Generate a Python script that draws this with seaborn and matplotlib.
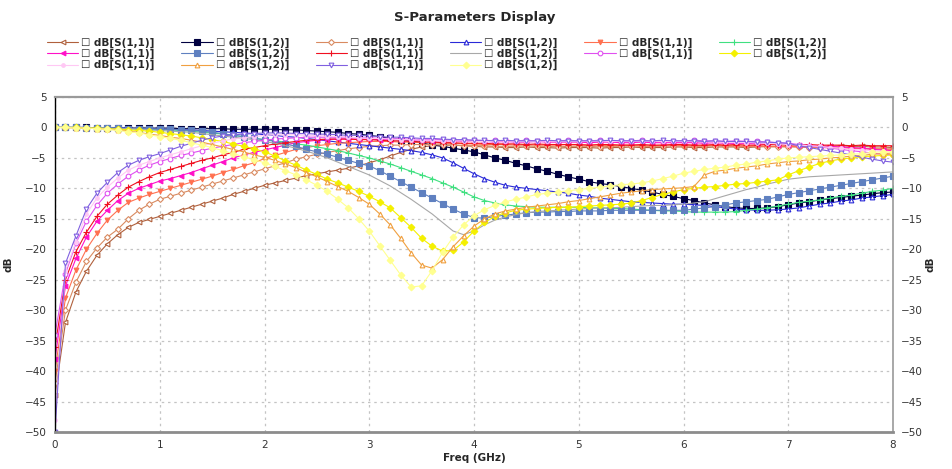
import numpy as np
import pandas as pd
import seaborn as sns
import matplotlib.pyplot as plt

# frequency sweep (GHz), 0.1 GHz step
freq_ghz = np.round(np.linspace(0, 8, 81), 1)

# ---- S11 traces (dB) ----
s11_brown = [
    -44, -32, -27, -23.6, -21.0, -19.1, -17.6, -16.4, -15.6, -15.1,
    -14.6, -14.1, -13.6, -13.1, -12.6, -12.1, -11.6, -11.0, -10.5, -10.0,
    -9.5, -9.1, -8.7, -8.3, -7.9, -7.6, -7.3, -7.0, -6.7, -6.3,
    -5.8, -5.3, -4.7, -4.1, -3.6, -3.2, -3.0, -2.9, -2.9, -3.0,
    -3.1, -3.2, -3.2, -3.3, -3.3, -3.2, -3.3, -3.3, -3.4, -3.3,
    -3.3, -3.3, -3.4, -3.3, -3.3, -3.2, -3.3, -3.3, -3.3, -3.2,
    -3.2, -3.3, -3.3, -3.2, -3.2, -3.2, -3.3, -3.2, -3.1, -3.1,
    -3.1, -3.1, -3.0, -3.1, -3.1, -3.0, -3.1, -3.1, -3.2, -3.2,
    -3.3]
s11_salmon = [
    -42, -30, -25.4, -22.0, -19.8, -18.0, -16.7, -15.0, -13.6, -12.6,
    -11.8, -11.3, -10.8, -10.3, -9.8, -9.3, -8.8, -8.3, -7.8, -7.3,
    -6.8, -6.3, -5.8, -5.2, -4.8, -4.4, -4.1, -3.8, -3.5, -3.3,
    -3.1, -3.0, -2.9, -2.9, -2.8, -2.8, -2.8, -2.9, -2.9, -3.0,
    -3.0, -3.0, -3.1, -3.1, -3.1, -3.0, -3.1, -3.1, -3.2, -3.1,
    -3.1, -3.1, -3.2, -3.1, -3.1, -3.0, -3.1, -3.1, -3.1, -3.0,
    -3.0, -3.1, -3.1, -3.0, -3.0, -3.1, -3.1, -3.1, -3.2, -3.2,
    -3.2, -3.2, -3.3, -3.3, -3.3, -3.4, -3.4, -3.4, -3.5, -3.5,
    -3.5]
s11_coral = [
    -40, -28, -23.4, -20.0, -17.4, -15.2, -13.6, -12.3, -11.6, -11.0,
    -10.5, -10.0, -9.5, -9.0, -8.5, -8.0, -7.4, -6.9, -6.3, -5.8,
    -5.1, -4.6, -4.1, -3.6, -3.3, -3.0, -2.8, -2.6, -2.5, -2.4,
    -2.3, -2.3, -2.3, -2.4, -2.4, -2.5, -2.5, -2.6, -2.6, -2.7,
    -2.7, -2.8, -2.8, -2.8, -2.9, -2.8, -2.9, -2.9, -2.9, -2.8,
    -2.9, -2.9, -2.9, -3.0, -2.9, -2.9, -3.0, -3.0, -2.9, -2.9,
    -3.0, -3.0, -3.0, -2.9, -3.0, -3.0, -3.1, -3.0, -3.1, -3.1,
    -3.1, -3.2, -3.2, -3.2, -3.3, -3.3, -3.4, -3.5, -3.5, -3.6,
    -3.7]
s11_magenta = [
    -38, -26, -21.5, -18.0, -15.4, -13.6, -12.0, -10.8, -10.0, -9.4,
    -8.8, -8.4, -7.9, -7.4, -6.8, -6.2, -5.6, -5.0, -4.5, -4.1,
    -3.7, -3.3, -2.9, -2.5, -2.3, -2.1, -2.0, -1.9, -1.9, -1.9,
    -1.9, -2.0, -2.0, -2.0, -2.1, -2.1, -2.2, -2.2, -2.2, -2.3,
    -2.3, -2.3, -2.4, -2.3, -2.4, -2.4, -2.3, -2.4, -2.4, -2.4,
    -2.4, -2.5, -2.4, -2.4, -2.5, -2.5, -2.4, -2.5, -2.5, -2.5,
    -2.5, -2.5, -2.6, -2.5, -2.6, -2.6, -2.6, -2.7, -2.7, -2.8,
    -2.8, -2.9, -3.0, -3.0, -3.1, -3.2, -3.3, -3.4, -3.6, -3.7,
    -3.8]
s11_red = [
    -36, -25, -20.4, -17.2, -14.6, -12.6, -11.1, -9.8, -8.9, -8.1,
    -7.4, -6.9, -6.4, -5.9, -5.4, -5.0, -4.5, -4.1, -3.6, -3.3,
    -3.0, -2.7, -2.5, -2.3, -2.1, -2.0, -1.9, -1.9, -1.9, -2.0,
    -2.0, -2.1, -2.2, -2.2, -2.3, -2.4, -2.4, -2.5, -2.5, -2.6,
    -2.6, -2.6, -2.7, -2.7, -2.7, -2.8, -2.7, -2.8, -2.8, -2.8,
    -2.8, -2.9, -2.8, -2.8, -2.9, -2.9, -2.8, -2.9, -2.9, -2.8,
    -2.8, -2.9, -2.9, -2.8, -2.9, -2.8, -2.9, -2.9, -2.8, -2.8,
    -2.9, -2.9, -2.8, -2.9, -2.9, -2.9, -3.0, -2.9, -3.0, -3.0,
    -3.0]
s11_orchid = [
    -34, -24, -19.0, -15.4, -12.8, -10.8, -9.3, -8.0, -7.0, -6.2,
    -5.6, -5.1, -4.6, -4.2, -3.8, -3.4, -3.1, -2.8, -2.5, -2.3,
    -2.1, -1.9, -1.8, -1.7, -1.6, -1.6, -1.6, -1.6, -1.6, -1.7,
    -1.7, -1.8, -1.8, -1.9, -1.9, -2.0, -2.0, -2.0, -2.1, -2.1,
    -2.1, -2.2, -2.1, -2.2, -2.2, -2.1, -2.2, -2.2, -2.2, -2.1,
    -2.2, -2.2, -2.1, -2.2, -2.2, -2.2, -2.1, -2.2, -2.2, -2.2,
    -2.2, -2.1, -2.2, -2.2, -2.3, -2.2, -2.3, -2.3, -2.4, -2.5,
    -2.6, -2.8, -3.0, -3.2, -3.4, -3.6, -3.8, -4.0, -4.2, -4.4,
    -4.5]
s11_pink = [
    -48, -23.5, -18.8, -14.2, -11.6, -9.8, -8.3, -7.0, -6.2, -5.6,
    -5.0, -4.5, -4.0, -3.5, -3.0, -2.6, -2.2, -1.9, -1.7, -1.5,
    -1.3, -1.2, -1.2, -1.2, -1.3, -1.3, -1.4, -1.5, -1.6, -1.7,
    -1.8, -1.8, -1.9, -2.0, -2.0, -2.1, -2.1, -2.2, -2.2, -2.2,
    -2.3, -2.3, -2.3, -2.2, -2.3, -2.3, -2.3, -2.2, -2.3, -2.3,
    -2.3, -2.3, -2.2, -2.3, -2.3, -2.3, -2.3, -2.2, -2.3, -2.3,
    -2.3, -2.3, -2.3, -2.4, -2.4, -2.4, -2.5, -2.5, -2.6, -2.7,
    -2.8, -2.9, -3.0, -3.1, -3.3, -3.4, -3.6, -3.7, -3.8, -3.9,
    -4.0]
s11_purple = [
    -50, -22.3, -17.8, -13.4, -10.8, -9.0, -7.4, -6.2, -5.4, -4.8,
    -4.3, -3.7, -3.1, -2.6, -2.1, -1.7, -1.4, -1.2, -1.1, -1.0,
    -0.9, -0.9, -0.9, -1.0, -1.0, -1.1, -1.1, -1.2, -1.3, -1.3,
    -1.4, -1.5, -1.6, -1.6, -1.7, -1.8, -1.8, -1.9, -2.0, -2.0,
    -2.1, -2.1, -2.2, -2.1, -2.2, -2.2, -2.2, -2.1, -2.2, -2.2,
    -2.2, -2.2, -2.2, -2.1, -2.2, -2.2, -2.2, -2.2, -2.1, -2.2,
    -2.2, -2.2, -2.3, -2.2, -2.3, -2.3, -2.3, -2.4, -2.4, -2.5,
    -2.6, -3.0, -3.3, -3.6, -3.9, -4.2, -4.5, -4.9, -5.2, -5.5,
    -5.7]

# ---- S12 traces (dB) ----
s12_navy = [
    0, 0, 0, 0, -0.1, -0.1, -0.1, -0.1, -0.1, -0.1,
    -0.1, -0.1, -0.2, -0.2, -0.2, -0.2, -0.2, -0.3, -0.3, -0.3,
    -0.3, -0.3, -0.4, -0.4, -0.5, -0.6, -0.7, -0.8, -1.0, -1.1,
    -1.3, -1.5, -1.8, -2.0, -2.2, -2.5, -2.9, -3.1, -3.4, -3.7,
    -4.0, -4.5, -5.0, -5.4, -5.9, -6.3, -6.8, -7.2, -7.7, -8.1,
    -8.5, -8.9, -9.2, -9.4, -9.7, -10.0, -10.3, -10.6, -11.0, -11.3,
    -11.7, -12.0, -12.4, -12.7, -13.0, -13.2, -13.3, -13.3, -13.2, -13.0,
    -12.7, -12.4, -12.2, -11.9, -11.7, -11.5, -11.3, -11.1, -10.9, -10.7,
    -10.6]
s12_blue = [
    0, 0, 0, 0, -0.1, -0.1, -0.1, -0.1, -0.2, -0.2,
    -0.3, -0.3, -0.4, -0.4, -0.5, -0.6, -0.7, -0.8, -0.9, -1.0,
    -1.2, -1.3, -1.5, -1.6, -1.8, -2.0, -2.2, -2.4, -2.6, -2.8,
    -3.0, -3.2, -3.4, -3.6, -3.8, -4.1, -4.5, -5.0, -5.8, -6.7,
    -7.6, -8.4, -9.0, -9.5, -9.8, -10.0, -10.2, -10.4, -10.6, -10.8,
    -11.1, -11.3, -11.6, -11.8, -12.0, -12.2, -12.3, -12.4, -12.5, -12.6,
    -12.6, -12.7, -12.8, -13.0, -13.2, -13.4, -13.5, -13.6, -13.6, -13.5,
    -13.4, -13.2, -12.9, -12.6, -12.4, -12.1, -11.9, -11.6, -11.4, -11.2,
    -11.0]
s12_green = [
    0, 0, 0, -0.1, -0.1, -0.1, -0.2, -0.2, -0.2, -0.3,
    -0.4, -0.4, -0.5, -0.6, -0.8, -0.9, -1.1, -1.3, -1.5, -1.8,
    -2.0, -2.2, -2.4, -2.7, -2.9, -3.2, -3.5, -3.8, -4.2, -4.6,
    -5.0, -5.5, -6.0, -6.6, -7.2, -7.8, -8.4, -9.1, -9.8, -10.6,
    -11.4, -12.0, -12.4, -12.7, -12.9, -13.0, -13.1, -13.1, -13.1, -13.1,
    -13.1, -13.2, -13.2, -13.3, -13.3, -13.4, -13.5, -13.6, -13.7, -13.7,
    -13.8, -13.9, -13.9, -13.9, -13.9, -13.8, -13.6, -13.4, -13.2, -12.9,
    -12.6, -12.3, -12.1, -11.9, -11.6, -11.3, -11.1, -10.8, -10.5, -10.3,
    -10.0]
s12_steel = [
    0, 0, 0, -0.1, -0.1, -0.1, -0.1, -0.2, -0.2, -0.2,
    -0.3, -0.3, -0.4, -0.5, -0.6, -0.8, -1.0, -1.3, -1.5, -1.8,
    -2.0, -2.3, -2.7, -3.1, -3.6, -4.0, -4.4, -4.9, -5.4, -5.9,
    -6.3, -7.1, -8.0, -8.9, -9.8, -10.7, -11.6, -12.5, -13.4, -14.2,
    -14.8, -14.9, -14.6, -14.4, -14.2, -14.0, -13.9, -13.9, -13.8, -13.8,
    -13.7, -13.7, -13.7, -13.6, -13.6, -13.6, -13.6, -13.6, -13.6, -13.6,
    -13.6, -13.4, -13.2, -13.0, -12.7, -12.4, -12.2, -12.0, -11.8, -11.4,
    -11.0, -10.7, -10.4, -10.1, -9.8, -9.5, -9.2, -8.9, -8.6, -8.3,
    -8.0]
s12_gray = [
    0, 0, 0, -0.1, -0.1, -0.1, -0.2, -0.2, -0.3, -0.4,
    -0.5, -0.6, -0.7, -0.8, -1.0, -1.2, -1.4, -1.6, -1.8, -2.0,
    -2.3, -2.6, -3.0, -3.4, -3.9, -4.4, -5.0, -5.7, -6.4, -7.1,
    -7.8, -8.7, -9.6, -10.7, -11.8, -13.0, -14.2, -15.6, -17.0, -17.6,
    -17.0, -16.0, -15.2, -14.7, -14.3, -14.0, -13.8, -13.7, -13.6, -13.5,
    -13.4, -13.3, -13.2, -13.2, -13.1, -13.0, -12.9, -12.8, -12.8, -12.7,
    -12.6, -12.4, -12.2, -11.7, -11.2, -10.7, -10.2, -9.8, -9.3, -8.9,
    -8.5, -8.3, -8.1, -8.0, -7.9, -7.8, -7.7, -7.6, -7.5, -7.4,
    -7.3]
s12_yellow = [
    0, 0, 0, -0.1, -0.1, -0.2, -0.3, -0.4, -0.5, -0.6,
    -0.8, -1.0, -1.2, -1.4, -1.7, -2.0, -2.3, -2.7, -3.1, -3.5,
    -4.0, -4.7, -5.5, -6.2, -7.0, -7.7, -8.5, -9.1, -9.8, -10.5,
    -11.3, -12.2, -13.2, -14.8, -16.4, -18.2, -19.5, -20.3, -20.2, -18.8,
    -17.0, -15.6, -14.6, -14.0, -13.6, -13.4, -13.3, -13.2, -13.1, -13.1,
    -13.0, -12.9, -12.8, -12.7, -12.6, -12.4, -12.0, -11.5, -11.0, -10.6,
    -10.2, -10.0, -9.8, -9.7, -9.5, -9.3, -9.2, -9.0, -8.8, -8.6,
    -7.8, -7.1, -6.5, -5.9, -5.5, -5.2, -5.0, -4.8, -4.7, -4.6,
    -4.5]
s12_orange = [
    0, 0, -0.1, -0.1, -0.2, -0.3, -0.4, -0.6, -0.8, -1.1,
    -1.3, -1.6, -1.8, -2.1, -2.4, -2.8, -3.2, -3.6, -4.0, -4.5,
    -4.9, -5.4, -6.0, -6.6, -7.4, -8.1, -8.9, -9.7, -10.5, -11.5,
    -12.6, -14.2, -16.0, -18.2, -20.6, -22.6, -23.1, -21.7, -19.6, -17.8,
    -16.2, -15.0, -14.2, -13.7, -13.4, -13.1, -12.9, -12.7, -12.5, -12.2,
    -12.0, -11.7, -11.4, -11.1, -10.8, -10.6, -10.4, -10.2, -10.1, -10.0,
    -9.9, -9.7, -7.8, -7.2, -7.0, -6.7, -6.5, -6.3, -6.0, -5.8,
    -5.6, -5.5, -5.3, -5.2, -5.0, -4.9, -4.7, -4.6, -4.4, -4.3,
    -4.2]
s12_lightyellow = [
    0, 0, -0.1, -0.1, -0.2, -0.3, -0.5, -0.7, -0.9, -1.2,
    -1.5, -1.8, -2.1, -2.5, -2.9, -3.3, -3.8, -4.3, -4.8, -5.3,
    -5.8, -6.4, -7.1, -7.8, -8.6, -9.5, -10.5, -11.8, -13.2, -15.0,
    -17.0, -19.4, -21.8, -24.2, -26.2, -26.0, -23.5, -20.5, -18.0, -16.0,
    -14.5, -13.5, -12.8, -12.2, -11.8, -11.4, -11.0, -10.8, -10.6, -10.4,
    -10.2, -10.0, -9.8, -9.6, -9.4, -9.3, -9.1, -8.8, -8.4, -8.0,
    -7.5, -7.2, -6.9, -6.7, -6.5, -6.2, -6.0, -5.7, -5.5, -5.2,
    -5.0, -4.9, -4.8, -4.7, -4.6, -4.5, -4.4, -4.3, -4.1, -4.0,
    -4.0]

# legend order as shown (row by row)
trace_names = [
    "S11 a", "S12 a", "S11 b", "S12 b", "S11 c", "S12 c",
    "S11 d", "S12 d", "S11 e", "S12 e", "S11 f", "S12 f",
    "S11 g", "S12 g", "S11 h", "S12 h"]
trace_values = [
    s11_brown, s12_navy, s11_salmon, s12_blue, s11_coral, s12_green,
    s11_magenta, s12_steel, s11_red, s12_gray, s11_orchid, s12_yellow,
    s11_pink, s12_orange, s11_purple, s12_lightyellow]
legend_labels = ["dB[S(1,1)]" if n.startswith("S11") else "dB[S(1,2)]"
                 for n in trace_names]

# colour, marker, marker size, hollow marker
trace_styles = {
    "S11 a": ("#b0603c", "<", 3.4, True),
    "S12 a": ("#000040", "s", 3.8, False),
    "S11 b": ("#d98a60", "D", 3.0, True),
    "S12 b": ("#2a2ad8", "^", 3.4, True),
    "S11 c": ("#ff7050", "v", 3.4, False),
    "S12 c": ("#40e080", "+", 4.2, False),
    "S11 d": ("#ff10c8", "<", 3.4, False),
    "S12 d": ("#5f80c0", "s", 4.6, False),
    "S11 e": ("#f01020", "+", 4.2, False),
    "S12 e": ("#a8a8a8", "", 0.0, False),
    "S11 f": ("#e050f0", "o", 3.4, True),
    "S12 f": ("#f4f000", "D", 3.4, False),
    "S11 g": ("#ffc8f4", "o", 2.6, False),
    "S12 g": ("#f0a040", "^", 3.4, True),
    "S11 h": ("#8060e0", "v", 3.4, True),
    "S12 h": ("#ffff90", "D", 3.4, False),
}

df = pd.concat(
    [pd.DataFrame({"freq": freq_ghz, "dB": vals, "trace": name})
     for name, vals in zip(trace_names, trace_values)],
    ignore_index=True)

sns.set_style("white")
plt.rcParams["font.family"] = ["DejaVu Sans"]

fig = plt.figure(figsize=(9.52, 4.69), dpi=100)
ax = fig.add_axes([55 / 952, 1 - 432 / 469, 838 / 952, 335 / 469])

handles = []
for name in trace_names:
    color, marker, ms, hollow = trace_styles[name]
    sub = df[df["trace"] == name]
    kw = dict(marker=marker if marker else None, markersize=ms,
              markeredgecolor=color, markeredgewidth=0.8,
              markerfacecolor="white" if hollow else color)
    sns.lineplot(data=sub, x="freq", y="dB", ax=ax, color=color,
                 linewidth=0.8, estimator=None, legend=False, **kw)
    handles.append(ax.lines[-1])

ax.set_xlim(0, 8)
ax.set_ylim(-50, 5)
ax.set_xticks(range(0, 9))
ax.set_yticks(range(5, -51, -5))
ax.grid(True, color="#c4c4c4", linestyle=(0, (2, 3)), linewidth=0.9)
ax.tick_params(axis="both", length=0, labelsize=7.5, labelcolor="#333333",
               pad=6)
ax.tick_params(axis="y", right=False, labelright=True)
ax.set_xlabel("Freq (GHz)", fontsize=7.5, fontweight="bold", labelpad=2)
ax.set_ylabel("dB", fontsize=7.5, fontweight="bold", labelpad=8)
ax.text(1.045, 0.5, "dB", transform=ax.transAxes, rotation=90,
        fontsize=7.5, fontweight="bold", ha="center", va="center")

for side, col, lw in [("left", "black", 1.0), ("bottom", "#8c8c8c", 2.0),
                      ("top", "#9a9a9a", 1.6), ("right", "#9a9a9a", 1.2)]:
    ax.spines[side].set_visible(True)
    ax.spines[side].set_color(col)
    ax.spines[side].set_linewidth(lw)

fig.text(475 / 952, 1 - 18 / 469, "S-Parameters Display", ha="center",
         va="center", fontsize=9.5, fontweight="bold")

# matplotlib fills legend columns first: reorder so rows read as shown
ncol = 6
col_order = []
for c in range(ncol):
    col_order.extend(range(c, len(handles), ncol))
leg = fig.legend([handles[i] for i in col_order],
                 ["\u2610 " + legend_labels[i] for i in col_order],
                 ncol=ncol, loc="upper left",
                 bbox_to_anchor=(47 / 952, 1 - 38 / 469), frameon=False,
                 prop={"size": 7.5, "weight": "bold"}, handlelength=3.0,
                 handletextpad=0.3, columnspacing=2.55, labelspacing=0.08,
                 borderaxespad=0, borderpad=0)

fig.savefig("out.png", dpi=100)
